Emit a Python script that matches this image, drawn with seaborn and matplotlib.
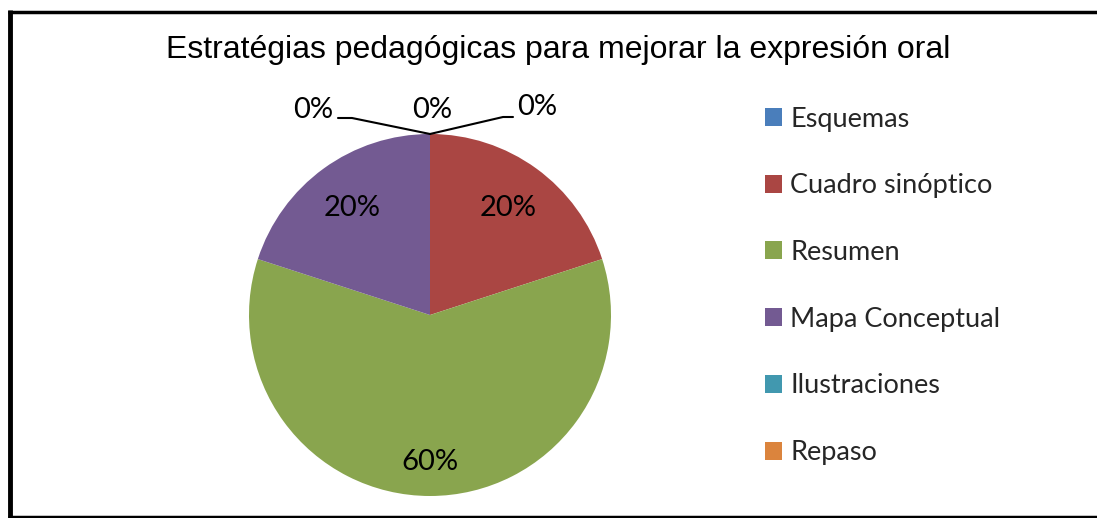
import numpy as np
import matplotlib
matplotlib.use("Agg")
import matplotlib.pyplot as plt
import seaborn as sns

# datos del grafico
categorias = ["Esquemas", "Cuadro sinóptico", "Resumen", "Mapa Conceptual", "Ilustraciones", "Repaso"]
porcentajes = [0, 20, 60, 20, 0, 0]
colores = ["#4A7EBB", "#AA4643", "#89A54E", "#735A92", "#4198AF", "#DB843D"]
titulo = "Estratégias pedagógicas para mejorar la expresión oral"

sns.set_theme(style="white")
plt.rcParams["font.family"] = ["Lato", "DejaVu Sans"]

W, H = 1097, 518
fig = plt.figure(figsize=(W / 100, H / 100), dpi=100)
ax = fig.add_axes([0, 0, 1, 1])

cx, cy, r = 430, H - 315, 181
paleta = sns.color_palette(colores)
wedges, _ = ax.pie(porcentajes, colors=paleta, startangle=90, counterclock=False,
                   center=(cx, cy), radius=r, frame=True,
                   wedgeprops=dict(linewidth=0))
ax.set_xlim(0, W)
ax.set_ylim(0, H)
ax.set_aspect("equal")
ax.axis("off")

# etiquetas de porcentaje
ceros = [(2, 205), (-117, 205), (107, 208)]  # desplazamientos para las etiquetas 0%
k = 0
for w, v in zip(wedges, porcentajes):
    if v > 0:
        ang = np.deg2rad((w.theta1 + w.theta2) / 2)
        d = 0.81 if v >= 50 else 0.73
        ax.text(cx + d * r * np.cos(ang), cy + d * r * np.sin(ang), f"{v}%",
                ha="center", va="center", fontsize=21, color="black")
    else:
        dx, dy = ceros[k]
        ax.text(cx + dx, cy + dy, f"{v}%", ha="center", va="center",
                fontsize=21, color="black")
        top = (cx, cy + r)
        if dx < -50:
            ax.plot([top[0], cx - 78, cx - 92], [top[1], cy + 197, cy + 197],
                    color="black", lw=1.5)
        elif dx > 50:
            ax.plot([top[0], cx + 73, cx + 83], [top[1], cy + 198, cy + 198],
                    color="black", lw=1.5)
        k += 1

ax.text(558, H - 50, titulo, ha="center", va="center", fontsize=23,
        family=["Liberation Sans", "DejaVu Sans"], color="black")

ax.legend(wedges, categorias, loc="upper left", bbox_to_anchor=(751, H - 93),
          bbox_transform=ax.transData, frameon=False, fontsize=19.5,
          handlelength=0.65, handleheight=0.65, handletextpad=0.3,
          labelspacing=1.54, borderpad=0)

# marco
ax.plot([9.5, 9.5], [0, H - 10], color="black", lw=3.5, solid_capstyle="butt")
ax.plot([8, W], [H - 11.5, H - 11.5], color="black", lw=2.5, solid_capstyle="butt")
ax.plot([8, W], [1.2, 1.2], color="black", lw=2.5, solid_capstyle="butt")

fig.savefig("out.png", dpi=100)
